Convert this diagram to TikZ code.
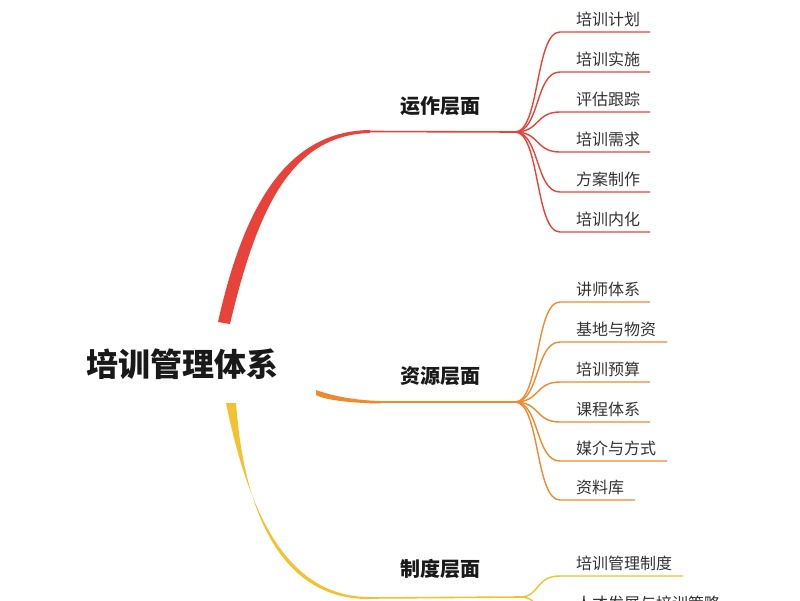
\documentclass[tikz,border=0pt]{standalone}
\usepackage{fontspec}
\setmainfont{Noto Sans CJK SC}
\begin{document}
\begin{tikzpicture}[x=1pt,y=-1pt,
  leaf/.style={anchor=south west,inner sep=0pt,text=black!80,font=\fontsize{16}{16}\selectfont},
  mid/.style={inner sep=0pt,text=black!90,font=\fontsize{20}{20}\selectfont\bfseries},
  root/.style={inner sep=0pt,text=black!90,font=\fontsize{32}{32}\selectfont\bfseries},
  ln/.style={line width=1.6pt,line cap=round}]
\definecolor{cr}{HTML}{E8433A}\definecolor{co}{HTML}{EF8A2E}\definecolor{cy}{HTML}{F2C230}
\useasboundingbox (0,0) rectangle (800,600);
\fill[white] (0,0) rectangle (800,600);
\node[root] (root) at (182,364) {培训管理体系};
% red
\fill[cr] (218,322) .. controls (245,200) and (290,131) .. (370,130) -- (370,133) .. controls (293,135) and (258,205) .. (230,324) -- cycle;
\coordinate (hr) at (515,132);
\draw[cr,ln] (370,131.5) -- (hr);
\node[mid] (m1) at (440,106) {运作层面};
\foreach \t/\y/\e [count=\i] in {培训计划/32/650,培训实施/72/650,评估跟踪/112/650,培训需求/152/650,方案制作/192/650,培训内化/232/650}{
  \coordinate (r\i) at (560,\y);
  \node[leaf] (rl\i) at (576,\y-5) {\t};
  \draw[cr,line width=1.4pt] (hr) .. controls (540,132) and (535,\y) .. (r\i) -- (\e,\y);
}
% orange
\fill[co] (316,390) .. controls (330,395) and (350,400) .. (380,401) -- (380,403.5) .. controls (350,403) and (325,400) .. (316,395) -- cycle;
\coordinate (ho) at (515,402);
\draw[co,ln] (380,402) -- (ho);
\node[mid] (m2) at (440,376) {资源层面};
\foreach \t/\y/\e [count=\i] in {讲师体系/302/650,基地与物资/342/667,培训预算/382/650,课程体系/422/650,媒介与方式/461/667,资料库/500/635}{
  \coordinate (o\i) at (560,\y);
  \node[leaf] (ol\i) at (576,\y-5) {\t};
  \draw[co,line width=1.4pt] (ho) .. controls (540,402) and (535,\y) .. (o\i) -- (\e,\y);
}
% yellow
\fill[cy] (226,403) .. controls (250,520) and (290,597) .. (370,597) -- (370,599) .. controls (288,600) and (245,525) .. (236,403) -- cycle;
\coordinate (hy) at (520,597);
\draw[cy,ln] (370,598) -- (hy);
\node[mid] (m3) at (440,569) {制度层面};
\foreach \t/\y/\e [count=\i] in {培训管理制度/576/683,人才发展与培训策略/616/730}{
  \coordinate (y\i) at (560,\y);
  \node[leaf] (yl\i) at (576,\y-5) {\t};
  \draw[cy,line width=1.4pt] (hy) .. controls (540,597) and (535,\y) .. (y\i) -- (\e,\y);
}
\end{tikzpicture}
\end{document}
